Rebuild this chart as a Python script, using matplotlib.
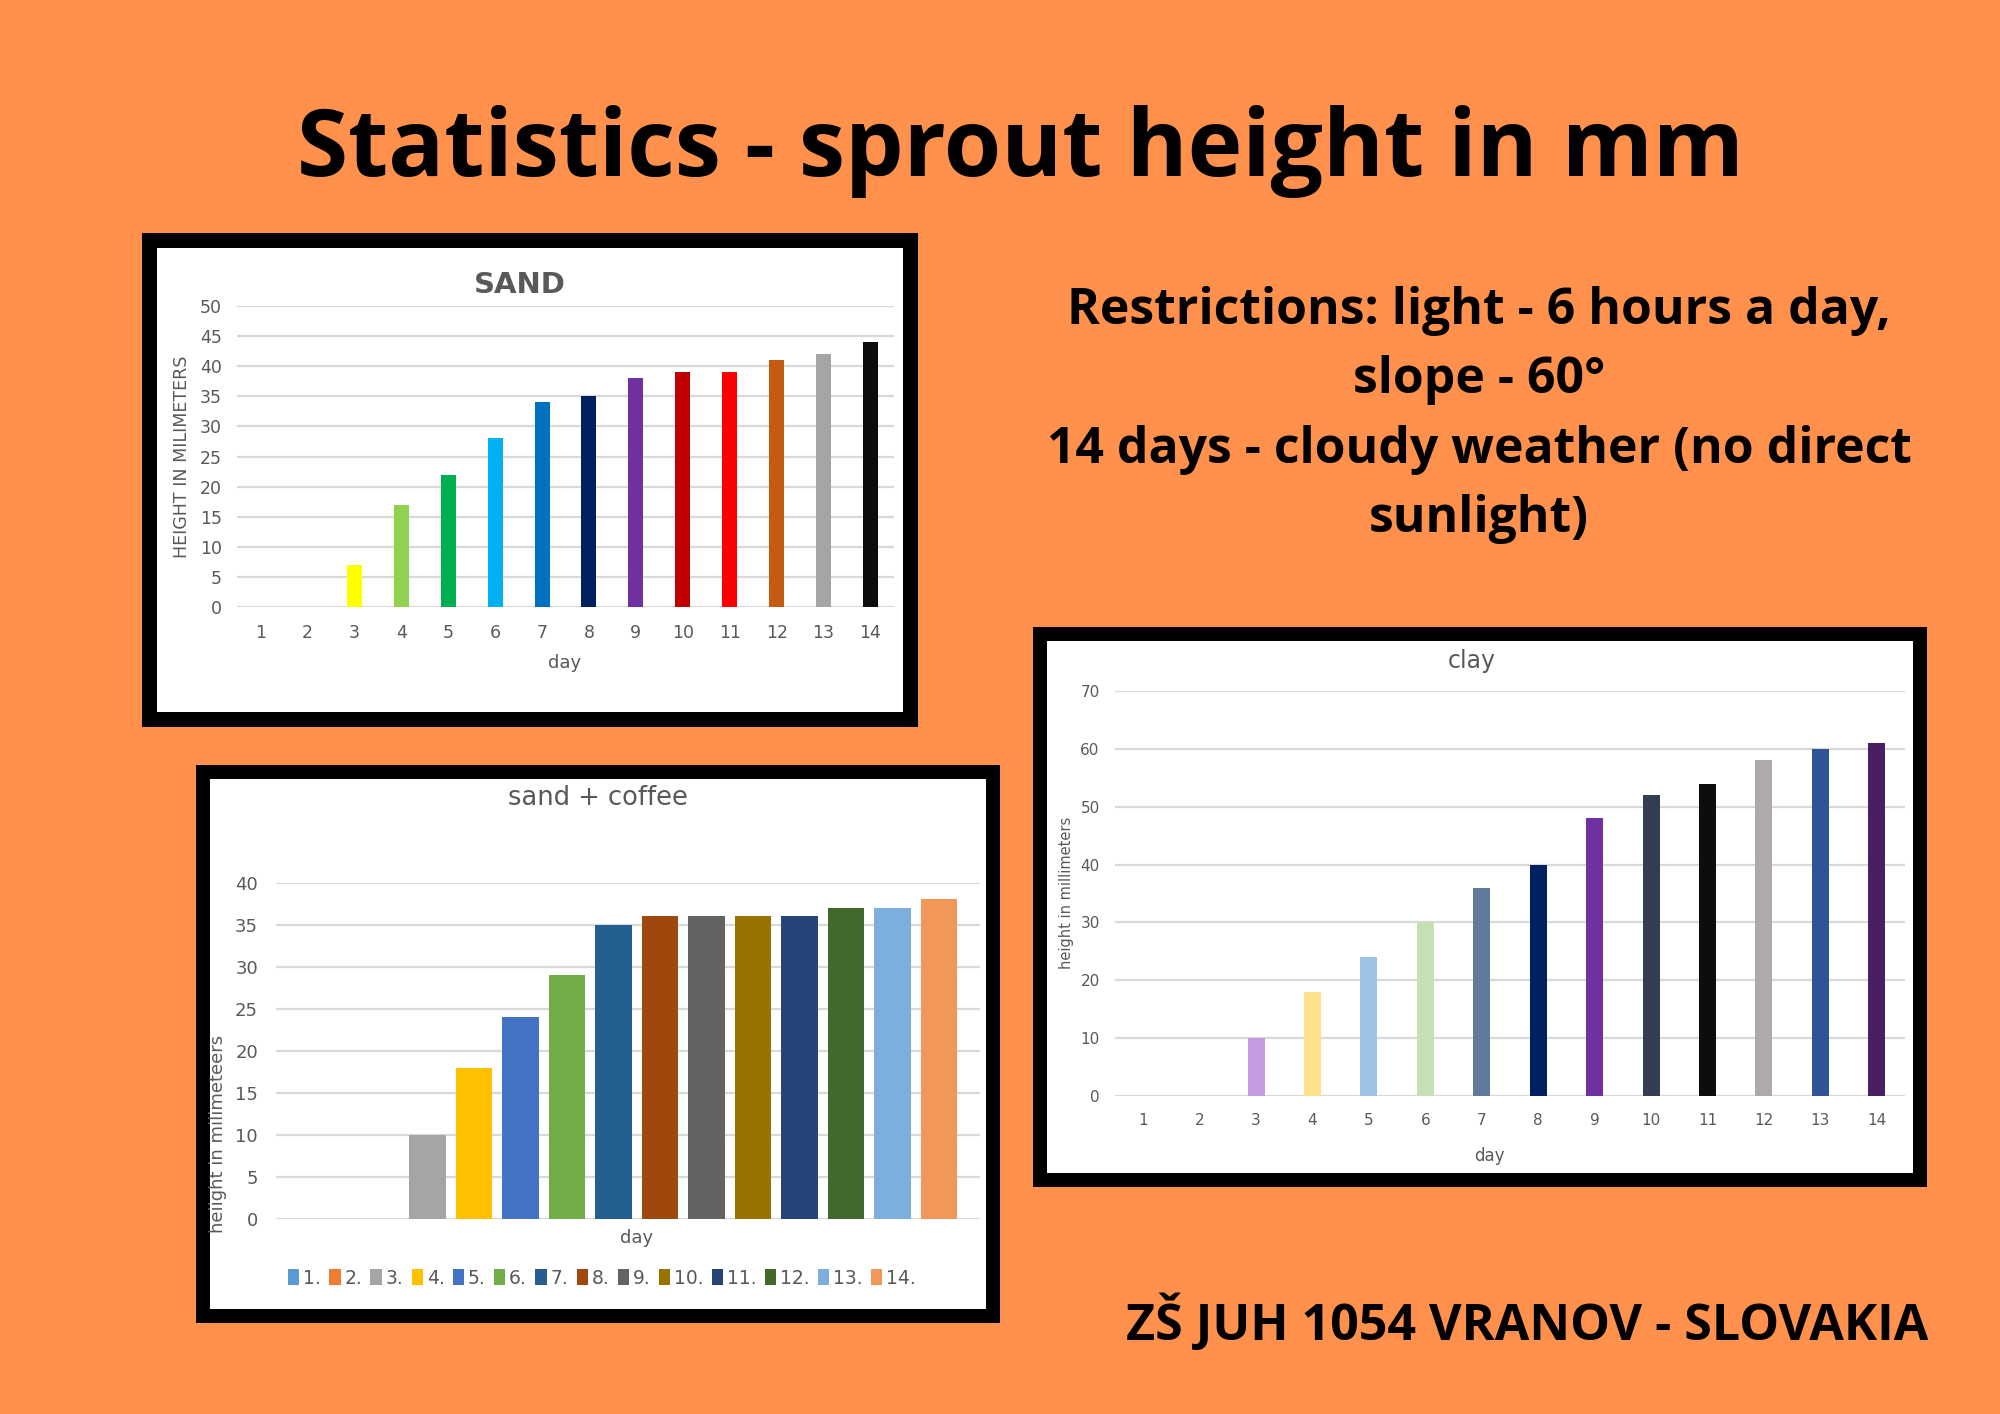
import matplotlib
matplotlib.use('Agg')
import matplotlib.pyplot as plt
from matplotlib.patches import Rectangle

# ---------------- data ----------------
days = list(range(1, 15))
day_labels = [str(d) for d in days]

sand_values = [0, 0, 7, 17, 22, 28, 34, 35, 38, 39, 39, 41, 42, 44]
sand_colors = ['#FFFFFF', '#FFFFFF', '#FFFF00', '#92D050', '#00B050', '#00B0F0', '#0070C0',
               '#002060', '#7030A0', '#C00000', '#FF0000', '#C55A11', '#A5A5A5', '#0D0D0D']
sand_yticks = list(range(0, 51, 5))

coffee_values = [0, 0, 10, 18, 24, 29, 35, 36, 36, 36, 36, 37, 37, 38]
coffee_colors = ['#5B9BD5', '#ED7D31', '#A5A5A5', '#FFC000', '#4472C4', '#70AD47', '#255E91',
                 '#9E480E', '#636363', '#997300', '#264478', '#43682B', '#7CAFDD', '#F1975A']
coffee_legend = [f"{d}." for d in days]
coffee_yticks = list(range(0, 41, 5))

clay_values = [0, 0, 10, 18, 24, 30, 36, 40, 48, 52, 54, 58, 60, 61]
clay_colors = ['#FFFFFF', '#FFFFFF', '#C39BE1', '#FFE08A', '#9DC3E6', '#C5E0B4', '#617A9B',
               '#002060', '#7030A0', '#333F50', '#0D0D0D', '#AEAAAA', '#2F5597', '#4B1E60']
clay_yticks = list(range(0, 71, 10))

main_title = "Statistics - sprout height in mm"
info_lines = ["Restrictions: light - 6 hours a day,", "slope - 60°",
              "14 days - cloudy weather (no direct", "sunlight)"]
footer = "ZŠ JUH 1054 VRANOV - SLOVAKIA"

# ---------------- figure ----------------
W, H = 2000, 1414
BG = '#FF914D'
GRAY = '#595959'
GRID = '#D9D9D9'
NARROW = ['Liberation Sans Narrow', 'DejaVu Sans']
BOLDF = ['Open Sans', 'DejaVu Sans']

fig = plt.figure(figsize=(W / 100, H / 100), dpi=100, facecolor=BG)
renderer = fig.canvas.get_renderer()


def frame(l, t, r, b, bw):
    fig.add_artist(Rectangle((l / W, 1 - b / H), (r - l) / W, (b - t) / H,
                             transform=fig.transFigure, facecolor='black',
                             edgecolor='none', zorder=-3))
    fig.add_artist(Rectangle(((l + bw) / W, 1 - (b - bw) / H), (r - l - 2 * bw) / W,
                             (b - t - 2 * bw) / H, transform=fig.transFigure,
                             facecolor='white', edgecolor='none', zorder=-2))


def make_axes(l, t, r, b):
    ax = fig.add_axes([l / W, 1 - b / H, (r - l) / W, (b - t) / H])
    ax.set_facecolor('none')
    for s in ax.spines.values():
        s.set_visible(False)
    ax.set_axisbelow(True)
    ax.grid(axis='y', color=GRID, linewidth=1.6)
    ax.grid(axis='x', visible=False)
    return ax


def fit_text(x, y, s, target_w, ha, size=None, **kw):
    t = fig.text(x / W, 1 - y / H, s, ha=ha, va='baseline', fontsize=40, **kw)
    if size is None:
        w = t.get_window_extent(renderer).width
        size = 40 * target_w / w
    t.set_fontsize(size)
    return t, size


def place_label(ax, px, py, which):
    bb = ax.get_position()
    xa = (px / W - bb.x0) / bb.width
    ya = ((1 - py / H) - bb.y0) / bb.height
    if which == 'y':
        ax.yaxis.set_label_coords(xa, ya)
    else:
        ax.xaxis.set_label_coords(xa, ya)


# ---------------- texts on the poster ----------------
fit_text(1020, 176, main_title, 1446, 'center', family=BOLDF, weight='bold', color='black')
_, info_size = fit_text(1479, 324, info_lines[0], 822, 'center', family=BOLDF,
                        weight='bold', color='black')
for line, yb in zip(info_lines[1:], [393, 463, 532]):
    fit_text(1479, yb, line, None, 'center', size=info_size, family=BOLDF,
             weight='bold', color='black')
fit_text(1126, 1340, footer, 801, 'left', family=BOLDF, weight='bold', color='black')

# ---------------- SAND ----------------
frame(142, 233, 918, 727, 15)
ax1 = make_axes(237, 306, 894, 607)
ax1.bar(range(14), sand_values, width=0.32, color=sand_colors, zorder=3)
ax1.set_xlim(-0.5, 13.5)
ax1.set_ylim(0, 50)
ax1.set_yticks(sand_yticks)
ax1.set_xticks(range(14))
ax1.set_xticklabels(day_labels)
ax1.tick_params(length=0, labelsize=12.5, labelcolor=GRAY, pad=12)
ax1.tick_params(axis='y', pad=11)
for lab in ax1.get_xticklabels() + ax1.get_yticklabels():
    lab.set_family(NARROW)
ax1.set_ylabel("HEIGHT IN MILIMETERS", fontsize=12.6, color=GRAY, va='center',
               family=['DejaVu Sans'])
place_label(ax1, 182, 457, 'y')
ax1.set_xlabel("day", fontsize=13, color=GRAY, va='center', family=NARROW)
place_label(ax1, 565, 663, 'x')
fig.text(520 / W, 1 - 285 / H, "SAND", ha='center', va='center', fontsize=21,
         weight='bold', color=GRAY, family=['DejaVu Sans'])

# ---------------- SAND + COFFEE ----------------
frame(196, 765, 1000, 1323, 14)
ax2 = make_axes(276, 882.5, 980, 1219)
for i in range(14):
    ax2.bar(i, coffee_values[i], width=0.78, color=coffee_colors[i],
            label=coffee_legend[i], zorder=3)
ax2.set_xlim(-1.26, 13.88)
ax2.set_ylim(0, 40)
ax2.set_yticks(coffee_yticks)
ax2.set_xticks([])
ax2.tick_params(length=0, labelsize=13, labelcolor=GRAY, pad=13)
for lab in ax2.get_yticklabels():
    lab.set_family(NARROW)
ax2.set_ylabel("heiight in milimeteers", fontsize=13, color=GRAY, va='center',
               family=['DejaVu Sans'])
place_label(ax2, 218, 1134, 'y')
ax2.set_xlabel("day", fontsize=13, color=GRAY, va='center', family=NARROW)
place_label(ax2, 637, 1238, 'x')
fig.text(598 / W, 1 - 798 / H, "sand + coffee", ha='center', va='center', fontsize=18.5,
         color=GRAY, family=NARROW)
leg = fig.legend(handles=ax2.patches[:14], labels=coffee_legend, ncol=14,
                 loc='center', bbox_to_anchor=(602 / W, 1 - 1278 / H), frameon=False,
                 handlelength=0.6, handleheight=1.0, handletextpad=0.2,
                 columnspacing=0.45, borderpad=0, labelcolor=GRAY,
                 prop={'family': NARROW, 'size': 13.5})

# ---------------- CLAY ----------------
frame(1033, 627, 1927, 1187, 14)
ax3 = make_axes(1115, 691, 1905, 1096)
ax3.bar(range(14), clay_values, width=0.30, color=clay_colors, zorder=3)
ax3.set_xlim(-0.5, 13.5)
ax3.set_ylim(0, 70)
ax3.set_yticks(clay_yticks)
ax3.set_xticks(range(14))
ax3.set_xticklabels(day_labels)
ax3.tick_params(length=0, labelsize=11, labelcolor=GRAY, pad=12)
ax3.tick_params(axis='y', pad=11)
for lab in ax3.get_xticklabels() + ax3.get_yticklabels():
    lab.set_family(NARROW)
ax3.set_ylabel("height in millimeters", fontsize=10.5, color=GRAY, va='center',
               family=['DejaVu Sans'])
place_label(ax3, 1067, 893, 'y')
ax3.set_xlabel("day", fontsize=12, color=GRAY, va='center', family=NARROW)
place_label(ax3, 1489, 1156, 'x')
fig.text(1472 / W, 1 - 661 / H, "clay", ha='center', va='center', fontsize=17,
         color=GRAY, family=NARROW)

fig.savefig('out.png', dpi=100, facecolor=BG)
